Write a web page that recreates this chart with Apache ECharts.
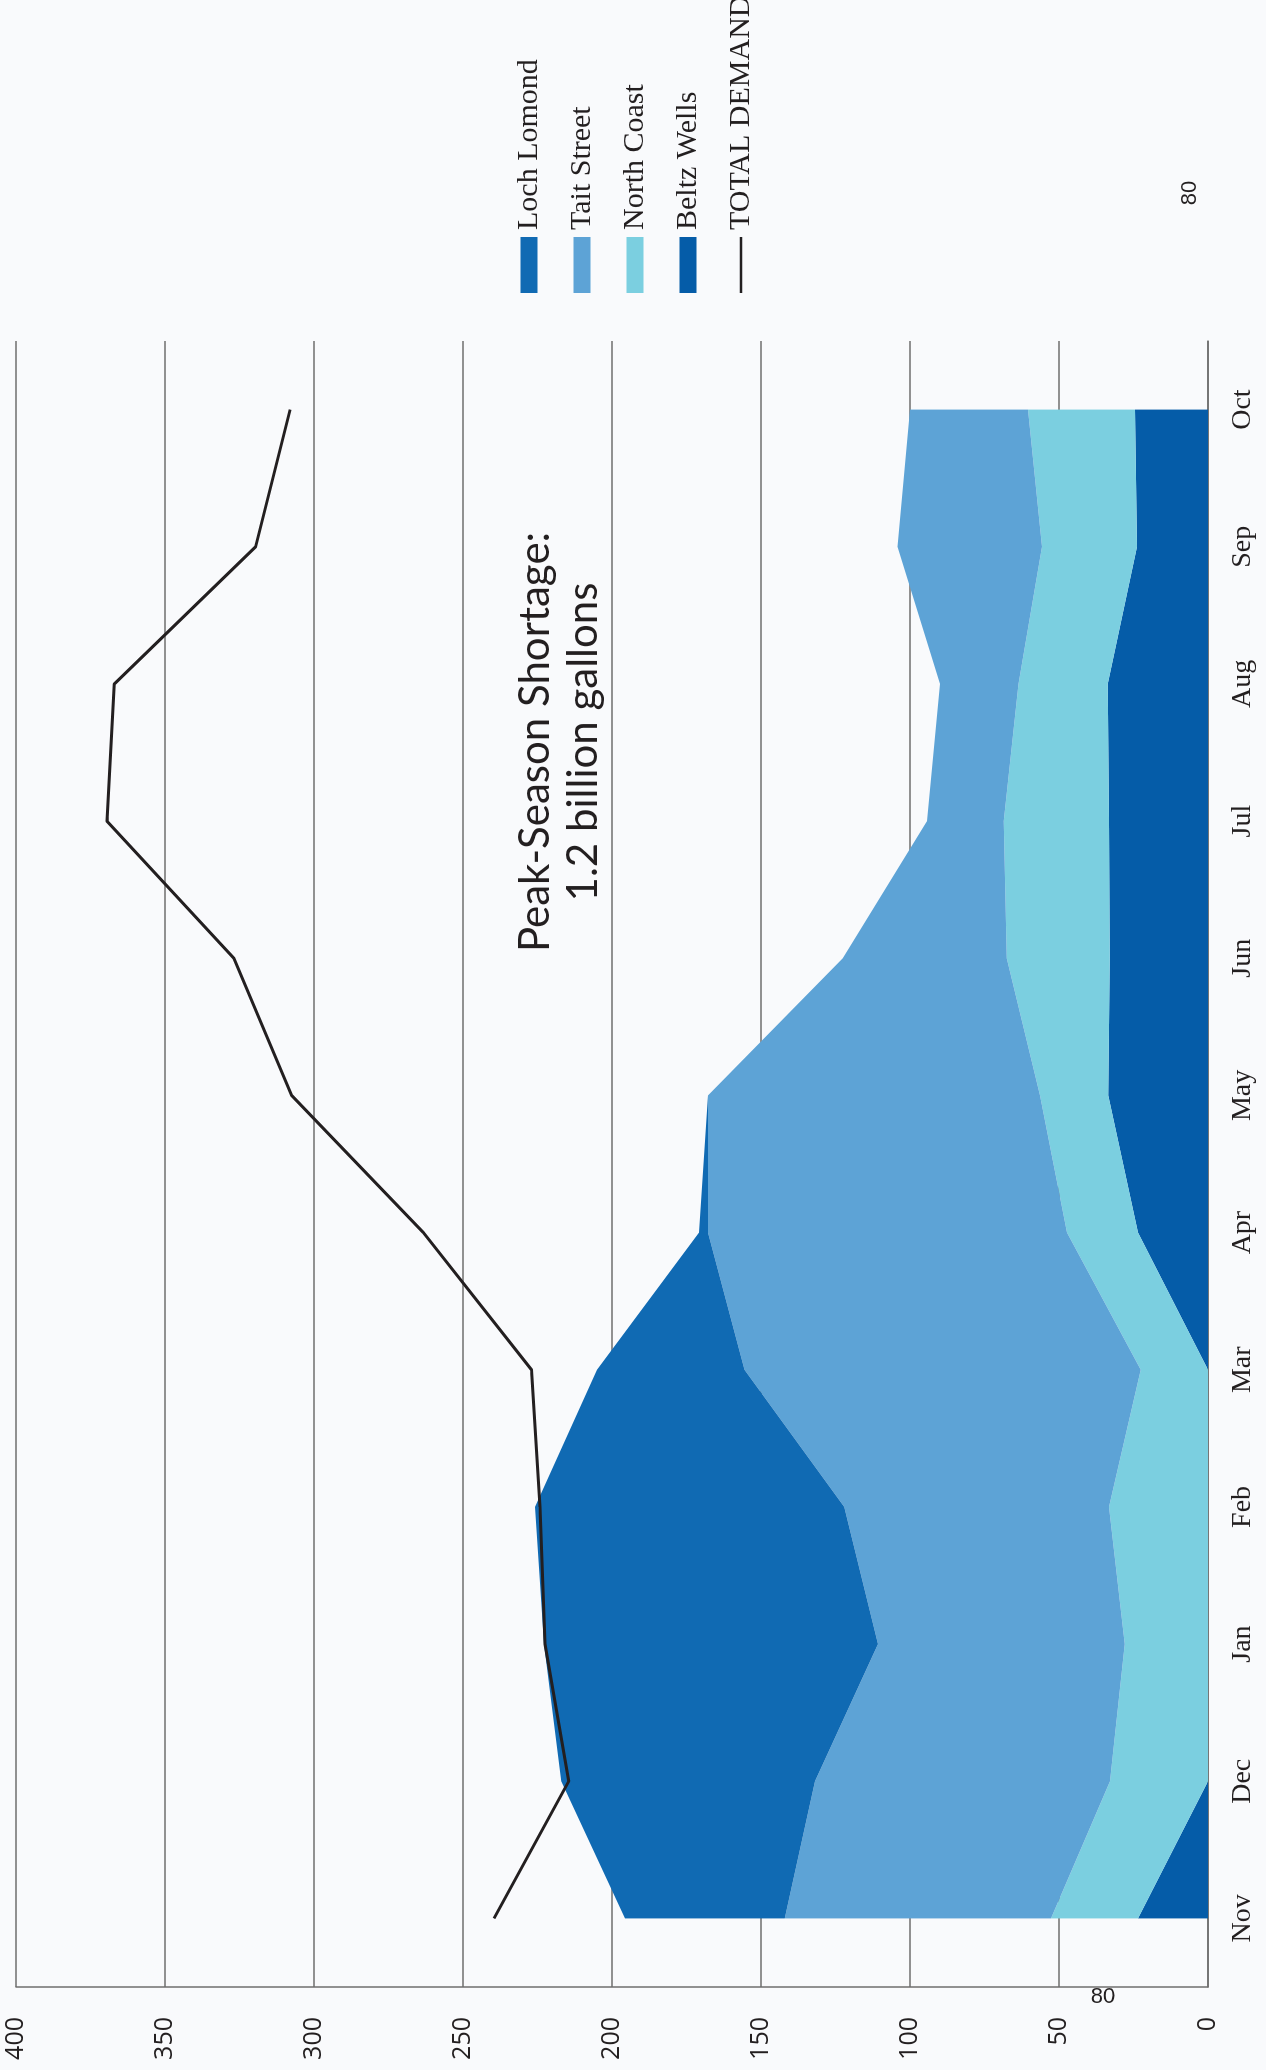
<!DOCTYPE html>
<html>
<head>
<meta charset="utf-8">
<title>Water supply and demand</title>
<script src="https://cdn.jsdelivr.net/npm/echarts@6/dist/echarts.min.js"></script>
<style>
  html, body { margin: 0; padding: 0; background: #f9fafc; overflow: hidden; }
  #page { position: relative; width: 1266px; height: 2070px; overflow: hidden; background: #f9fafc; }
  /* the chart is laid out landscape and turned a quarter-turn counter-clockwise */
  #chart { position: absolute; left: 0; top: 2070px; width: 2070px; height: 1266px;
           transform-origin: 0 0; transform: rotate(-90deg); }
</style>
</head>
<body>
<div id="page"><div id="chart"></div></div>
<script>
// Monthly supply by source and total demand (millions of gallons)
const months = ['Nov', 'Dec', 'Jan', 'Feb', 'Mar', 'Apr', 'May', 'Jun', 'Jul', 'Aug', 'Sep', 'Oct'];
const beltzWells  = [23.5, 0, 0, 0, 0, 23.5, 33.5, 33, 33.2, 33.6, 23.8, 24.5];
const northCoast  = [29.2, 32.9, 27.9, 33.2, 22.6, 23.8, 22.9, 34.5, 35.3, 30, 31.9, 35.9];
const taitStreet  = [89.3, 99, 82.8, 88.9, 132.9, 120.5, 111.4, 55.1, 25.8, 26.3, 48.5, 39.6];
const lochLomond  = [53.6, 85.1, 112.1, 103.7, 49.5, 3, 0, 0, 0, 0, 0, 0];
const totalDemand = [239.6, 214.5, 222.5, 224.2, 227, 263.3, 307.5, 326.9, 369.5, 367, 319.6, 308];

const valueMin = 0, valueMax = 400, valueStep = 50;
const legendOrder = ['Loch Lomond', 'Tait Street', 'North Coast', 'Beltz Wells', 'TOTAL DEMAND'];
const noteLines = ['Peak-Season Shortage:', '1.2 billion gallons'];
const strayMark = '80';

const colors = {
  loch: '#106ab3', tait: '#5da3d6', north: '#7bcfe0', beltz: '#055ca8',
  demand: '#231f20', grid: '#6e6e6e', text: '#231f20'
};

function areaSeries(name, data, color) {
  return {
    name, type: 'line', stack: 'supply', data,
    symbol: 'none', smooth: false,
    lineStyle: { width: 0 },
    itemStyle: { color },
    areaStyle: { color, opacity: 1 },
    emphasis: { disabled: true },
    z: 2
  };
}

const chart = echarts.init(document.getElementById('chart'), null, { width: 2070, height: 1266 });

chart.setOption({
  animation: false,
  backgroundColor: 'transparent',
  grid: { left: 83, right: 341, top: 16, bottom: 58, containLabel: false },
  legend: {
    orient: 'vertical', left: 1777, top: 514, padding: 0,
    itemWidth: 56, itemHeight: 17, itemGap: 23, symbolKeepAspect: false,
    textStyle: { fontFamily: 'Liberation Serif', fontSize: 30, lineHeight: 30, color: colors.text, padding: [0, 0, 0, 2] },
    data: [
      { name: legendOrder[0], icon: 'rect' },
      { name: legendOrder[1], icon: 'rect' },
      { name: legendOrder[2], icon: 'rect' },
      { name: legendOrder[3], icon: 'rect' },
      { name: legendOrder[4], icon: 'path://M0,0 M56,17 M0,7.2 L56,7.2 L56,9.8 L0,9.8 Z' }
    ],
    selectedMode: false
  },
  xAxis: {
    type: 'category', data: months, boundaryGap: true,
    axisLine: { show: true, lineStyle: { color: colors.grid, width: 1.5 } },
    axisTick: { show: false },
    splitLine: { show: false },
    axisLabel: { fontFamily: 'Liberation Serif', fontSize: 28, color: colors.text, margin: 21 }
  },
  yAxis: {
    type: 'value', min: valueMin, max: valueMax, interval: valueStep,
    axisLine: { show: true, lineStyle: { color: colors.grid, width: 1.5 } },
    axisTick: { show: false },
    splitLine: { show: true, lineStyle: { color: colors.grid, width: 1.5 } },
    axisLabel: { fontFamily: 'Open Sans', fontSize: 25, color: colors.text, margin: 30 }
  },
  series: [
    areaSeries('Beltz Wells', beltzWells, colors.beltz),
    areaSeries('North Coast', northCoast, colors.north),
    areaSeries('Tait Street', taitStreet, colors.tait),
    areaSeries('Loch Lomond', lochLomond, colors.loch),
    {
      name: 'TOTAL DEMAND', type: 'line', data: totalDemand,
      symbol: 'none', smooth: false,
      itemStyle: { color: colors.demand },
      lineStyle: { color: colors.demand, width: 3 },
      emphasis: { disabled: true },
      z: 5
    }
  ],
  graphic: [
    {
      type: 'text', x: 1328, y: 511,
      style: {
        text: noteLines.join('\n'), align: 'center', verticalAlign: 'top',
        font: '42px Lato', lineHeight: 48, fill: colors.text
      },
      z: 10
    },
    {
      type: 'text', x: 1877, y: 1190,
      style: { text: strayMark, font: '22px "Liberation Sans"', fill: colors.text,
               align: 'center', verticalAlign: 'middle' },
      z: 10
    },
    {
      type: 'text', x: 73, y: 1103, rotation: -Math.PI / 2,
      style: { text: strayMark, font: '22px "Liberation Sans"', fill: colors.text,
               align: 'center', verticalAlign: 'middle' },
      z: 10
    }
  ]
});
</script>
</body>
</html>
